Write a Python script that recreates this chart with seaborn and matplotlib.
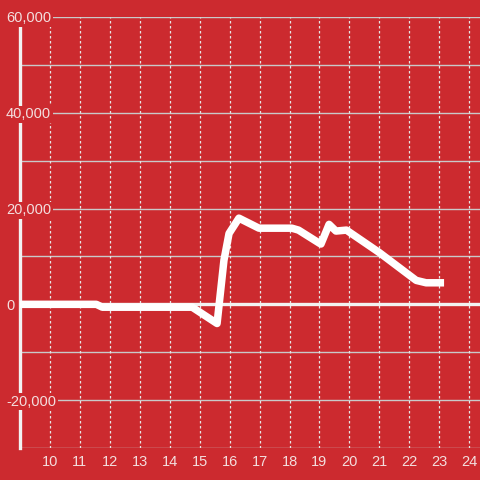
import matplotlib
matplotlib.use('Agg')
import matplotlib.pyplot as plt
import seaborn as sns
import pandas as pd

hours = [9.0, 11.55, 11.75, 14.75, 15.58, 15.81, 15.98, 16.31, 16.98, 18.08, 18.3,
         19.0, 19.05, 19.32, 19.55, 19.9, 21.0, 22.23, 22.56, 23.16]
values = [0, 0, -600, -600, -4000, 9200, 14800, 18000, 15900, 15900, 15500,
          12750, 12600, 16700, 15300, 15500, 10800, 5000, 4500, 4500]
x_ticks = list(range(10, 25))
y_ticks = [-20000, 0, 20000, 40000, 60000]

bg = '#cc2a2f'
txt = '#f3dede'

df = pd.DataFrame({'hour': hours, 'value': values})

sns.set_style('white')
plt.rcParams['font.family'] = ['Liberation Sans', 'DejaVu Sans']
plt.rcParams['axes.unicode_minus'] = False

fig = plt.figure(figsize=(4.8, 4.8), dpi=100, facecolor=bg)
ax = fig.add_axes([20 / 480, 1 - 448 / 480, 1 - 20 / 480, (448 - 17) / 480])
ax.set_facecolor(bg)

# grid
for v in range(-30000, 60001, 10000):
    ax.axhline(v, color='#c9c9c9', lw=1, zorder=1)
for h in x_ticks:
    ax.axvline(h, color='#e6e6e6', lw=0.9, dashes=(2, 2), zorder=1)
ax.axhline(0, color='#f2f2f2', lw=2.4, zorder=2)

sns.lineplot(data=df, x='hour', y='value', ax=ax, color='white', lw=5.4,
             zorder=3, solid_joinstyle='round', solid_capstyle='butt')

ax.set_xlim(9, 24.36)
ax.set_ylim(-30000, 60000)
ax.set_xticks(x_ticks)
ax.set_xticklabels([str(h) for h in x_ticks])
ax.set_yticks(y_ticks)
ax.set_yticklabels([f'{v:,}' for v in y_ticks])
ax.set_xlabel('')
ax.set_ylabel('')

for s in ['top', 'right', 'bottom']:
    ax.spines[s].set_visible(False)
ax.spines['left'].set_color('#f2f2f2')
ax.spines['left'].set_linewidth(2.4)
ax.spines['left'].set_zorder(2)

ax.tick_params(axis='x', length=0, pad=5, labelsize=10.5, labelcolor=txt)
ax.tick_params(axis='y', length=0, pad=10, labelsize=10.5, labelcolor=txt)
ax.yaxis.set_zorder(6)
for t in ax.yaxis.get_major_ticks():
    t.label1.set_horizontalalignment('left')
    t.label1.set_bbox(dict(facecolor=bg, edgecolor='none', pad=1))

fig.savefig('out.png', dpi=100, facecolor=bg)
